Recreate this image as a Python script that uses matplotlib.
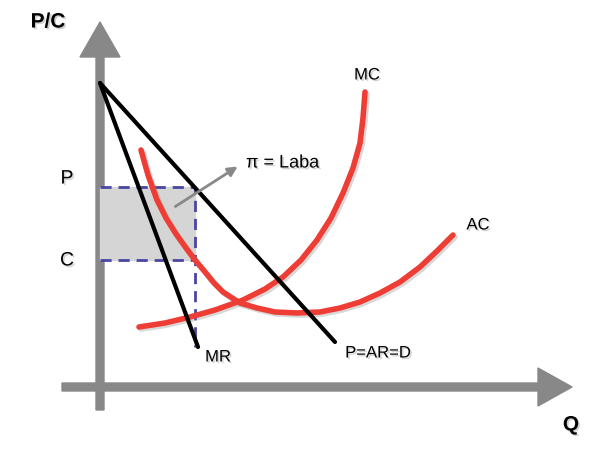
import matplotlib.pyplot as plt
import matplotlib.patheffects as pe

plt.rcParams['font.family'] = ['Liberation Sans', 'DejaVu Sans']

# Quantity / price units (origin at the axes corner)
# Demand (P=AR=D) and marginal revenue: straight lines from the same intercept
d_q = [0, 235]
d_p = [304, 45]
mr_q = [0, 98]
mr_p = [304, 40]

# Marginal cost curve
mc_q = [39, 65, 90, 115, 143, 165, 183, 201, 217, 231, 243, 253, 260, 263, 265]
mc_p = [60, 64, 70, 77, 87, 98, 110, 127, 147, 169, 194, 219, 244, 269, 295]

# Average cost curve
ac_q = [41, 48, 57, 66, 76, 86, 95, 105, 114, 123, 140, 157, 175, 197, 220,
        240, 260, 280, 300, 320, 337, 353]
ac_p = [237, 212, 187, 169, 153, 139, 127, 115, 104, 95, 84, 79, 75, 74, 75,
        79, 85, 94, 105, 120, 136, 152]

# Profit-maximising point
q_star = 95
price = 200
cost = 127

red = '#ee3d35'
gray = '#888888'
dash_col = '#4a45a0'

line_fx = [pe.SimpleLineShadow(offset=(1.5, -1.5), shadow_color='gray', alpha=0.3), pe.Normal()]
text_fx = [pe.withSimplePatchShadow(offset=(1.2, -1.2), shadow_rgbFace='gray', alpha=0.35)]

fig = plt.figure(figsize=(6.14, 4.53), dpi=100)
ax = fig.add_axes([0, 0, 1, 1])
ax.set_xlim(-100, 514)
ax.set_ylim(-66, 387)
ax.axis('off')

# axes with arrows
ax.arrow(0, -23, 0, 388, width=8, head_width=40, head_length=35,
         length_includes_head=True, color=gray, zorder=1)
ax.arrow(-38, 0, 510, 0, width=8, head_width=38, head_length=34,
         length_includes_head=True, color=gray, zorder=1)

# profit area
ax.fill_between([0, q_star], cost, price, color='#d5d5d5', zorder=2)
ax.plot([0, q_star, q_star], [price, price, 40], color=dash_col, lw=2,
        dashes=(4, 2.5), zorder=3)
ax.plot([0, q_star], [cost, cost], color=dash_col, lw=2, dashes=(4, 2.5), zorder=3)

# cost curves
ax.plot(mc_q, mc_p, color=red, lw=4, solid_capstyle='round', solid_joinstyle='round',
        path_effects=line_fx, zorder=4)
ax.plot(ac_q, ac_p, color=red, lw=4, solid_capstyle='round', solid_joinstyle='round',
        path_effects=line_fx, zorder=4)

# revenue lines
ax.plot(d_q, d_p, color='black', lw=3, solid_capstyle='round', zorder=5)
ax.plot(mr_q, mr_p, color='black', lw=3, solid_capstyle='round', zorder=5)

# profit annotation
ax.annotate('', xy=(140, 222), xytext=(73, 179),
            arrowprops=dict(arrowstyle='-|>', color=gray, lw=2, mutation_scale=14), zorder=6)
ax.text(146, 224, 'π = Laba', fontsize=13, va='center', ha='left', path_effects=text_fx)

# labels
ax.text(-52, 365, 'P/C', fontsize=15, fontweight='bold', ha='center', va='center', path_effects=text_fx)
ax.text(471, -38, 'Q', fontsize=15, fontweight='bold', ha='center', va='center', path_effects=text_fx)
ax.text(-33, 208, 'P', fontsize=14, ha='center', va='center', path_effects=text_fx)
ax.text(-33, 126, 'C', fontsize=14, ha='center', va='center', path_effects=text_fx)
ax.text(267, 312, 'MC', fontsize=12, ha='center', va='center', path_effects=text_fx)
ax.text(378, 162, 'AC', fontsize=12, ha='center', va='center', path_effects=text_fx)
ax.text(118, 30, 'MR', fontsize=12, ha='center', va='center', path_effects=text_fx)
ax.text(278, 34, 'P=AR=D', fontsize=12, ha='center', va='center', path_effects=text_fx)

fig.savefig('out.png', dpi=100)
